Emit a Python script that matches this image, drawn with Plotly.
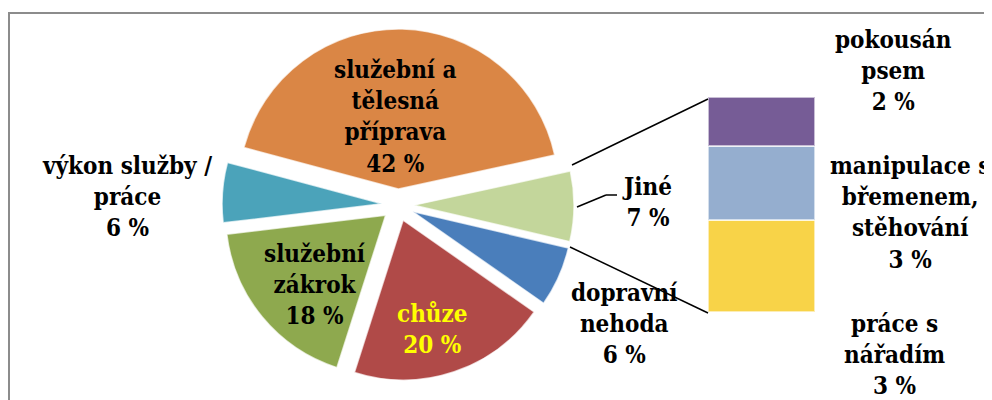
import plotly.graph_objects as go

# hlavní koláč (po směru hodinových ručiček od levé horní části)
pie_labels = ["služební a<br>tělesná<br>příprava", "Jiné", "dopravní<br>nehoda",
              "chůze", "služební<br>zákrok", "výkon služby /<br>práce"]
pie_values = [42, 7, 6, 20, 18, 6]
pie_colors = ["#DA8645", "#C3D69B", "#4A7EBB", "#B04A48", "#8EA94E", "#4BA3BA"]

# rozpad položky "Jiné" (zdola nahoru)
bar_labels = ["práce s<br>nářadím", "manipulace s<br>břemenem,<br>stěhování", "pokousán<br>psem"]
bar_values = [3.0, 2.4, 1.6]
bar_shown = [3, 3, 2]
bar_colors = ["#F8D348", "#95AECF", "#765C96"]

W, H = 992, 400
OFF = 8  # okraj stránky (body margin)


def px(x, y):
    return (x - OFF) / W, 1 - (y - OFF) / H


fig = go.Figure()

dx0, dy1 = px(222, 29)
dx1, dy0 = px(574, 381)
fig.add_trace(go.Pie(
    labels=pie_labels, values=pie_values,
    sort=False, direction="clockwise", rotation=-75,
    pull=[0.1] * len(pie_values),
    marker=dict(colors=pie_colors, line=dict(color="rgba(255,255,255,0.7)", width=1.5)),
    textinfo="none", hoverinfo="label+percent",
    domain=dict(x=[dx0, dx1], y=[dy0, dy1]),
    showlegend=False,
))

for lab, val, col in zip(bar_labels, bar_values, bar_colors):
    fig.add_trace(go.Bar(
        x=[0], y=[val], width=1, marker=dict(color=col, line=dict(color="rgba(255,255,255,0.6)", width=1.5)),
        name=lab, showlegend=False, hoverinfo="y",
        xaxis="x", yaxis="y",
    ))

bx0, by1 = px(708, 97)
bx1, by0 = px(815, 312)
fig.update_layout(
    width=W, height=H,
    margin=dict(l=0, r=0, t=0, b=0),
    barmode="stack",
    paper_bgcolor="white", plot_bgcolor="rgba(0,0,0,0)",
    xaxis=dict(domain=[bx0, bx1], range=[-0.5, 0.5], visible=False),
    yaxis=dict(domain=[by0, by1], range=[0, sum(bar_values)], visible=False),
)

font = dict(family="DejaVu Serif Condensed", size=24, color="black")

# popisky koláče
pie_text_pos = [(395, 117), (647, 202), (624, 323), (432, 329), (315, 284), (127, 197)]
for lab, val, (x, y) in zip(pie_labels, pie_values, pie_text_pos):
    f = dict(font)
    if lab == "chůze":
        f["color"] = "#FFFF00"
    xx, yy = px(x, y)
    fig.add_annotation(x=xx, y=yy, xref="paper", yref="paper", showarrow=False,
                       xanchor="center", yanchor="middle",
                       text=f"<b>{lab}<br>{val} %</b>", font=f, align="center")

# popisky sloupce
bar_text_pos = [(894, 354), (910, 212), (893, 70)]
for lab, val, (x, y) in zip(bar_labels, bar_shown, bar_text_pos):
    xx, yy = px(x, y)
    fig.add_annotation(x=xx, y=yy, xref="paper", yref="paper", showarrow=False,
                       xanchor="center", yanchor="middle",
                       text=f"<b>{lab}<br>{val} %</b>", font=font, align="center")

# spojnice koláč -> sloupec a vodítko popisku
lines = [((572, 165), (708, 99)), ((570, 247), (708, 313)),
         ((577, 207), (606, 195)), ((606, 195), (617, 195))]
for (x0, y0), (x1, y1) in lines:
    a, b = px(x0, y0)
    c, d = px(x1, y1)
    fig.add_shape(type="line", xref="paper", yref="paper", x0=a, y0=b, x1=c, y1=d,
                  line=dict(color="black", width=1.5))

# rámeček grafu
a, b = px(9, 13)
fig.add_shape(type="rect", xref="paper", yref="paper", x0=a, y0=-0.1, x1=1.1, y1=b,
              line=dict(color="#8C8C8C", width=2))

fig.write_html("out.html")
